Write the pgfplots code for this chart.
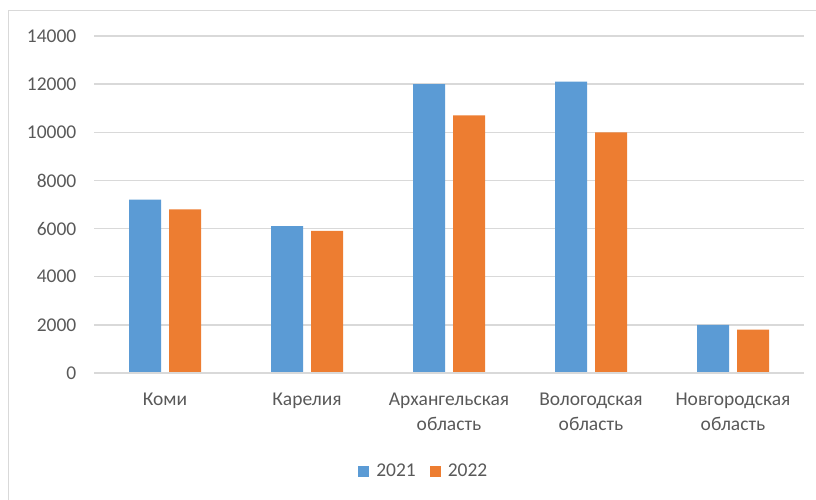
\documentclass[border=0pt]{standalone}
\usepackage{fontspec}
\setmainfont{Carlito}
\usepackage{pgfplots}
\pgfplotsset{compat=1.18}
\definecolor{xlblue}{HTML}{5B9BD5}
\definecolor{xlorange}{HTML}{ED7D31}
\definecolor{xlgrid}{HTML}{D9D9D9}
\definecolor{xltext}{HTML}{595959}

\begin{document}
\fontsize{19.5bp}{25bp}\selectfont
\begin{tikzpicture}
\useasboundingbox (0,0) rectangle (816bp,500bp);
\draw[xlgrid, line width=1bp] (8.5bp,0) -- (8.5bp,489.5bp) -- (816bp,489.5bp);
\begin{axis}[
    at={(94bp,127bp)}, anchor=south west,
    scale only axis,
    width=710bp, height=337bp,
    ybar=8bp, bar width=32bp,
    xmin=-0.5, xmax=4.5,
    ymin=0, ymax=14000,
    ytick={0,2000,...,14000},
    xtick=data,
    xticklabels={Коми, Карелия, {Архангельская\\область}, {Вологодская\\область}, {Новгородская\\область}},
    xticklabel style={align=center, text=xltext, font=\fontsize{19.5bp}{25bp}\selectfont, yshift=-13bp},
    yticklabel style={text=xltext, font=\fontsize{19.5bp}{25bp}\selectfont, xshift=-11bp},
    /pgf/number format/assume math mode=true,
    /pgf/number format/1000 sep={},
    scaled y ticks=false,
    major tick length=0pt,
    axis line style={draw=none},
    ymajorgrids,
    grid style={xlgrid, line width=1.5bp},
    legend columns=2,
    legend style={at={(0.372,-0.292)}, anchor=west, draw=none, fill=none, inner sep=0pt,
        font=\fontsize{19.5bp}{25bp}\selectfont, text=xltext,
        /tikz/every odd column/.style={column sep=5bp},
        /tikz/every even column/.append style={column sep=12bp}},
    legend image code/.code={\fill[#1] (0bp,-5.5bp) rectangle (11bp,5.5bp);},
]
\addplot[fill=xlblue, draw=none] coordinates {
    (0,7200) (1,6100) (2,12000) (3,12100) (4,2000)
};
\addplot[fill=xlorange, draw=none] coordinates {
    (0,6800) (1,5900) (2,10700) (3,10000) (4,1800)
};
\legend{2021, 2022}
\draw[xlgrid, line width=1.5bp] (axis cs:-0.5,0) -- (axis cs:4.5,0);
\end{axis}
\end{tikzpicture}
\end{document}
